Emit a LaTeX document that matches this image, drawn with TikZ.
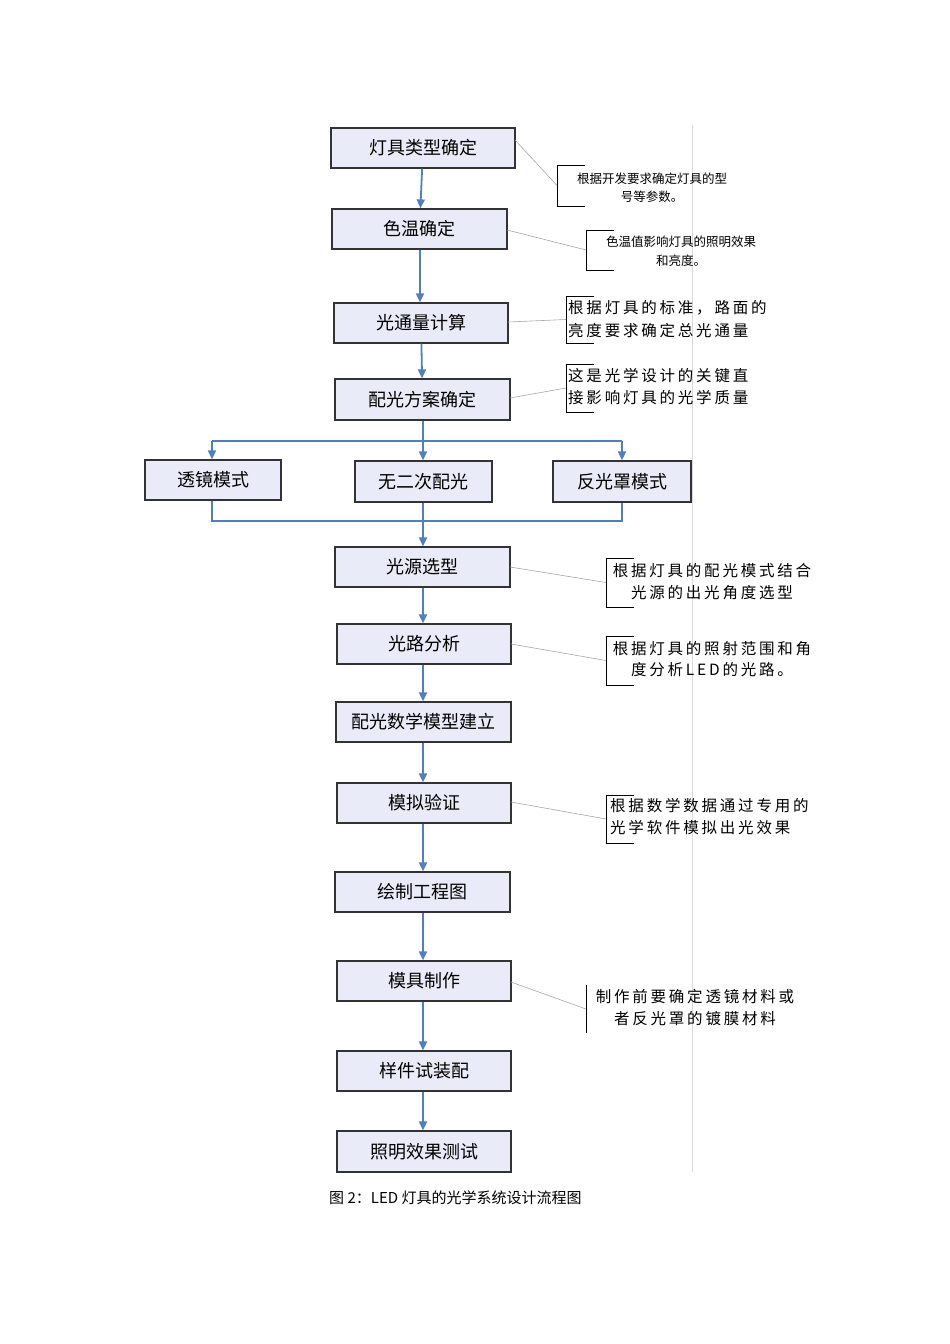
\documentclass[tikz,border=0pt]{standalone}
\usepackage{fontspec}
\newfontfamily\cjk{Noto Sans CJK SC}
\newfontfamily\cjkw{Noto Sans CJK SC}[LetterSpace=18]
\usetikzlibrary{arrows.meta}
\definecolor{fl}{HTML}{4F7FC0}
\definecolor{bx}{HTML}{E9ECF8}
\tikzset{
 stepbox/.style={draw=black!80,line width=1.2pt,fill=bx,inner sep=0pt,font=\cjk\fontsize{18}{20}\selectfont},
 flow/.style={draw=fl,line width=1.8pt,-{Triangle[length=9pt,width=8pt]}},
 fline/.style={draw=fl,line width=1.8pt},
 note/.style={inner sep=0pt,align=center},
 lead/.style={draw=black!35,line width=0.6pt},
 brk/.style={draw=black,line width=0.8pt}
}
\begin{document}
\begin{tikzpicture}[x=1pt,y=-1pt]
\useasboundingbox (0,0) rectangle (950,1344);
\newcommand\bx[6]{\node[stepbox,minimum width=#4-#3,minimum height=#6-#5] (#1) at ({(#3+#4)/2},{(#5+#6)/2}) {#2};}
\bx{b1}{灯具类型确定}{331}{515}{128}{168}
\bx{b2}{色温确定}{332}{507}{209}{249}
\bx{b3}{光通量计算}{334}{508}{303}{343}
\bx{b4}{配光方案确定}{335}{510}{379}{420}
\bx{m1}{透镜模式}{145}{281}{460}{500}
\bx{m2}{无二次配光}{355}{492}{461}{502}
\bx{m3}{反光罩模式}{553}{691}{461}{502}
\bx{b5}{光源选型}{335}{510}{547}{587}
\bx{b6}{光路分析}{337}{511}{624}{664}
\bx{b7}{配光数学模型建立}{336}{511}{702}{742}
\bx{b8}{模拟验证}{337}{511}{783}{823}
\bx{b9}{绘制工程图}{335}{510}{872}{912}
\bx{b10}{模具制作}{337}{511}{961}{1001}
\bx{b11}{样件试装配}{337}{511}{1051}{1091}
\bx{b12}{照明效果测试}{337}{511}{1131}{1172}
% right gray rule
\draw[black!15,line width=1pt] (692,125) -- (692,1172);
% flow
\draw[flow] (b1) -- (b2);
\draw[flow] (b2.south -| 420,0) -- (b3.north -| 420,0);
\draw[flow] (b3) -- (b4);
\coordinate (sl) at (212,441); \coordinate (sr) at (622,441); \coordinate (sc) at (423,441);
\draw[fline] (b4.south -| sc) -- (sc);
\draw[fline] (sl) -- (sr);
\draw[flow] (sl) -- (sl |- m1.north);
\draw[flow] (sc) -- (sc |- m2.north);
\draw[flow] (sr) -- (sr |- m3.north);
\coordinate (jl) at (212,521); \coordinate (jr) at (622,521); \coordinate (jc) at (423,521);
\draw[fline] (m1.south -| jl) -- (jl) -- (jr) -- (m3.south -| jr);
\draw[fline] (m2.south -| jc) -- (jc);
\draw[flow] (jc) -- (b5.north -| jc);
\foreach \a/\b in {b5/b6,b6/b7,b7/b8,b8/b9,b9/b10,b10/b11,b11/b12}
  \draw[flow] (\a.south -| 423,0) -- (\b.north -| 423,0);
% annotations
\newcommand\brk[4]{\draw[brk] (#1+28,#2) -- (#1,#2) -- (#1,#3) -- (#1+28,#3); \coordinate (#4) at (#1,{(#2+#3)/2});}
\brk{557}{165}{206}{k1}
\node[note,font=\cjk\fontsize{12.5}{18}\selectfont] (t1) at (652,188) {根据开发要求确定灯具的型\\号等参数。};
\draw[lead] (515,140) -- (k1);
\brk{586}{230}{270}{k2}
\node[note,font=\cjk\fontsize{12.5}{19}\selectfont] (t2) at (681,251) {色温值影响灯具的照明效果\\和亮度。};
\draw[lead] (507,230) -- (k2);
\brk{566}{296}{343}{k3}
\node[note,align=left,font=\cjkw\fontsize{15.5}{23}\selectfont,anchor=west] (t3) at (568,319) {根据灯具的标准，路面的\\亮度要求确定总光通量};
\draw[lead] (508,322) -- (k3);
\brk{566}{364}{412}{k4}
\node[note,align=left,font=\cjkw\fontsize{15.5}{22}\selectfont,anchor=west] (t4) at (568,387) {这是光学设计的关键直\\接影响灯具的光学质量};
\draw[lead] (510,398) -- (k4);
\brk{606}{558}{607}{k5}
\node[note,font=\cjkw\fontsize{15.5}{22}\selectfont] (t5) at (712,582) {根据灯具的配光模式结合\\光源的出光角度选型};
\draw[lead] (510,567) -- (k5);
\brk{606}{636}{685}{k6}
\node[note,font=\cjkw\fontsize{15.5}{21}\selectfont] (t6) at (712,659) {根据灯具的照射范围和角\\度分析LED的光路。};
\draw[lead] (511,644) -- (k6);
\brk{606}{795}{843}{k7}
\node[note,align=left,font=\cjkw\fontsize{15.5}{22}\selectfont,anchor=west] (t7) at (610,817) {根据数学数据通过专用的\\光学软件模拟出光效果};
\draw[lead] (511,802) -- (k7);
\draw[brk] (586,985) -- (586,1033); \coordinate (k8) at (586,1009);
\node[note,font=\cjkw\fontsize{15.5}{22}\selectfont] (t8) at (695,1008) {制作前要确定透镜材料或\\者反光罩的镀膜材料};
\draw[lead] (511,982) -- (k8);
\node[anchor=west,inner sep=0pt,font=\cjk\fontsize{15}{18}\selectfont] (cap) at (329,1198) {图 2：LED 灯具的光学系统设计流程图};
\end{tikzpicture}
\end{document}
